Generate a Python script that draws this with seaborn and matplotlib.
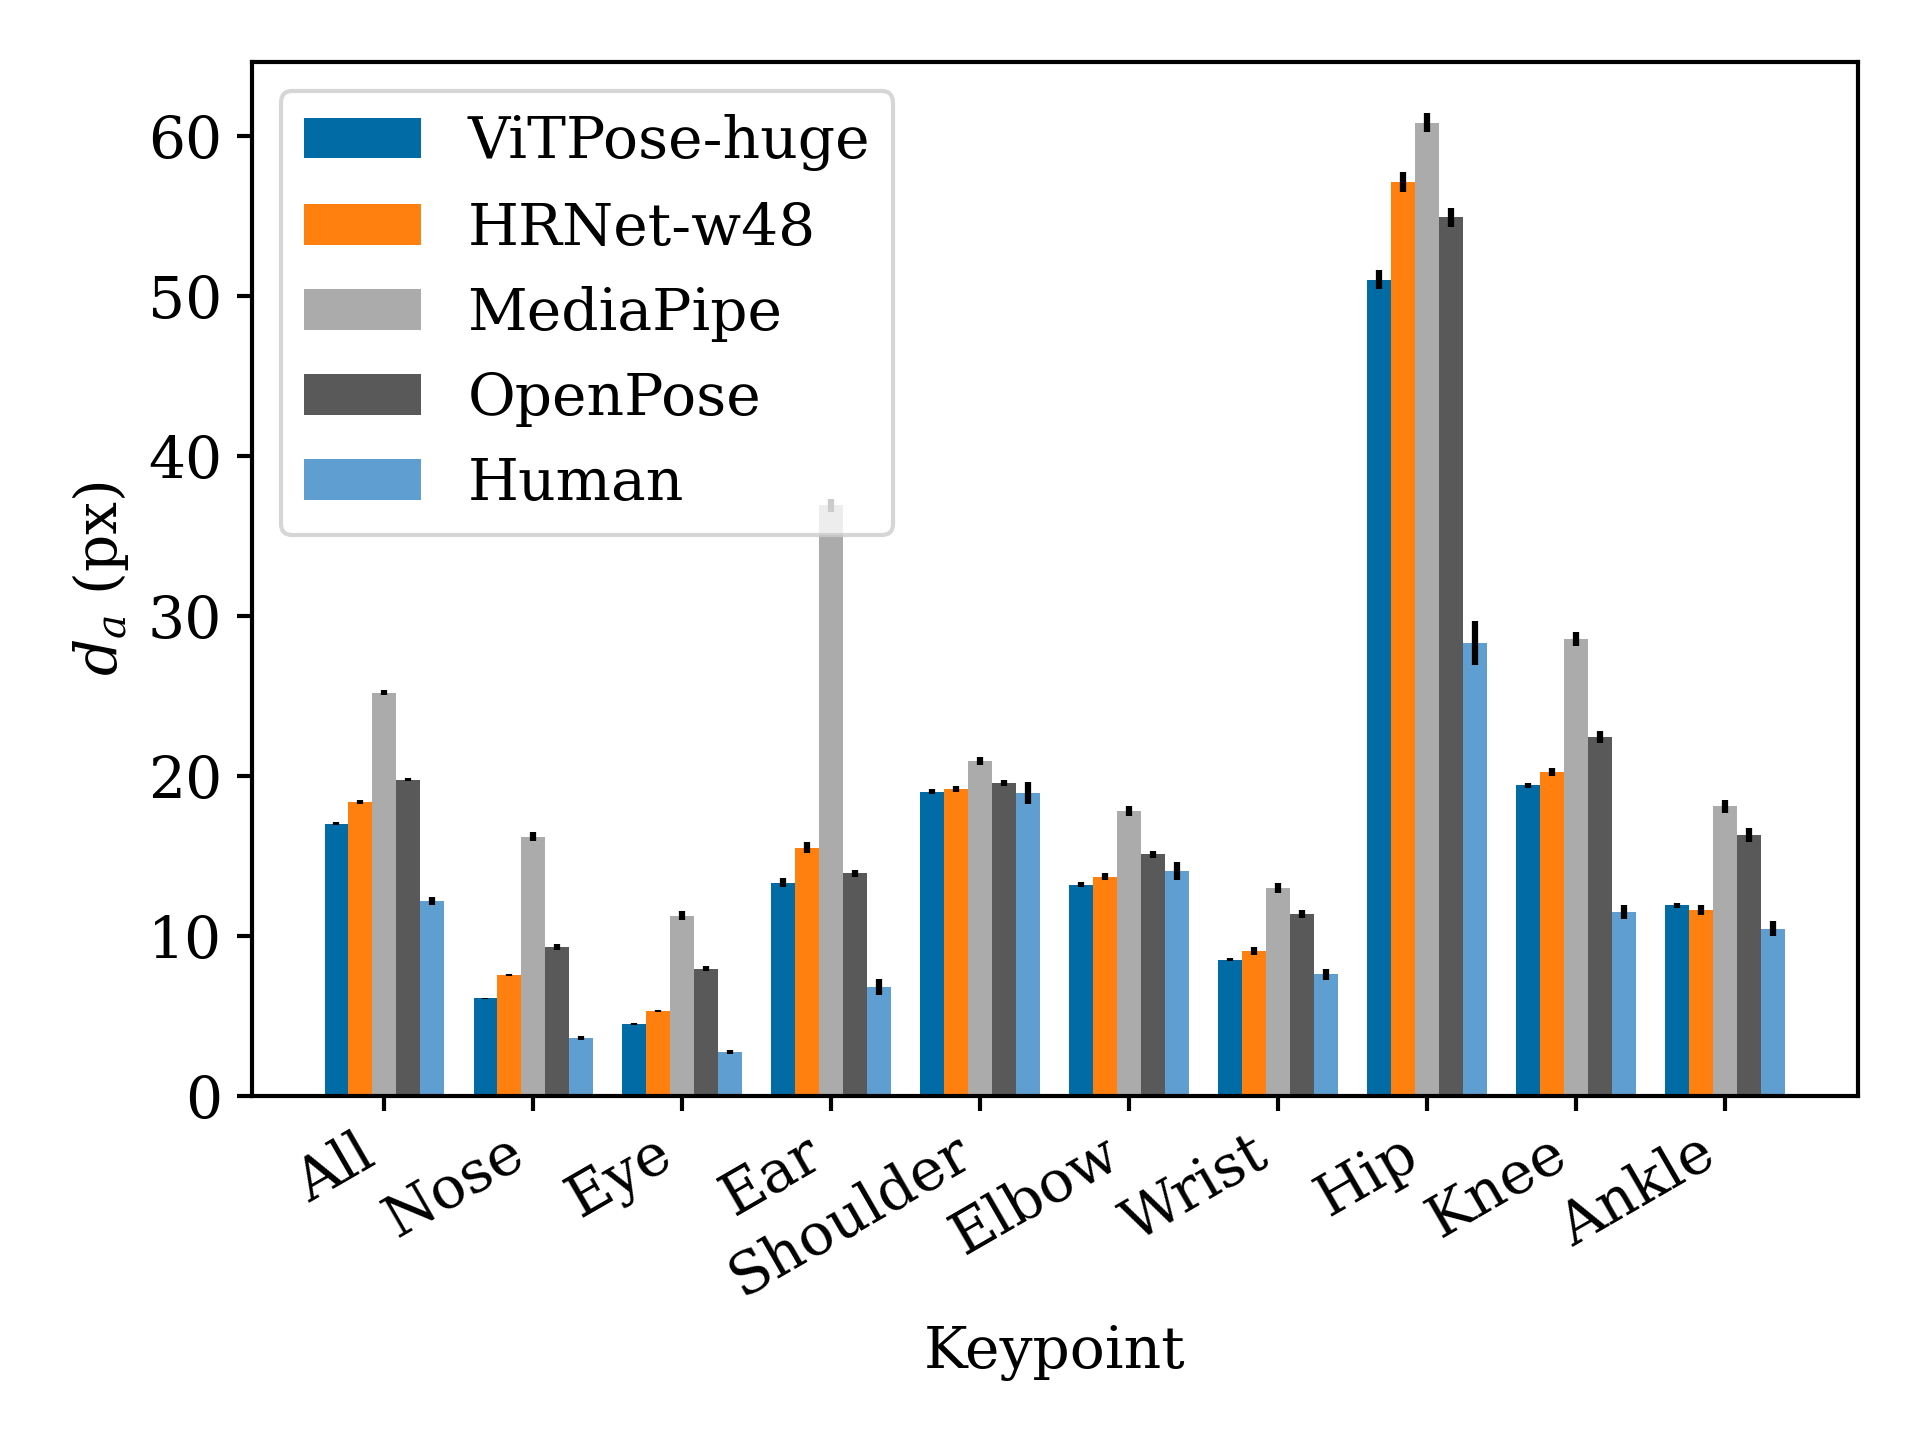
import numpy as np
import pandas as pd
import matplotlib
matplotlib.use('Agg')
import matplotlib.pyplot as plt
import seaborn as sns

# values
keypoints = ['All', 'Nose', 'Eye', 'Ear', 'Shoulder', 'Elbow', 'Wrist', 'Hip', 'Knee', 'Ankle']
models = ['ViTPose-huge', 'HRNet-w48', 'MediaPipe', 'OpenPose', 'Human']

vitpose = [17.0, 6.1, 4.5, 13.3, 19.0, 13.2, 8.5, 51.0, 19.4, 11.9]
hrnet = [18.35, 7.55, 5.3, 15.5, 19.15, 13.7, 9.05, 57.1, 20.25, 11.6]
mediapipe = [25.2, 16.2, 11.25, 36.9, 20.9, 17.8, 13.0, 60.8, 28.55, 18.1]
openpose = [19.75, 9.3, 7.95, 13.9, 19.55, 15.1, 11.35, 54.9, 22.4, 16.3]
human = [12.2, 3.6, 2.75, 6.8, 18.9, 14.05, 7.6, 28.3, 11.5, 10.45]

vitpose_err = [0.08, 0.04, 0.06, 0.28, 0.16, 0.18, 0.1, 0.6, 0.17, 0.15]
hrnet_err = [0.12, 0.08, 0.08, 0.33, 0.18, 0.2, 0.24, 0.64, 0.24, 0.31]
mediapipe_err = [0.15, 0.3, 0.27, 0.4, 0.24, 0.34, 0.31, 0.6, 0.44, 0.41]
openpose_err = [0.1, 0.18, 0.15, 0.24, 0.21, 0.21, 0.24, 0.59, 0.37, 0.44]
human_err = [0.25, 0.12, 0.14, 0.5, 0.68, 0.59, 0.34, 1.35, 0.44, 0.47]

colors = ['#006BA4', '#FF800E', '#ABABAB', '#595959', '#5F9ED1']

values = [vitpose, hrnet, mediapipe, openpose, human]
errors = [vitpose_err, hrnet_err, mediapipe_err, openpose_err, human_err]

rows = []
for m, vals, errs in zip(models, values, errors):
    for k, v, e in zip(keypoints, vals, errs):
        rows.append({'Keypoint': k, 'Model': m, 'da': v, 'err': e})
df = pd.DataFrame(rows)

sns.set_style('ticks')
plt.rcParams['font.family'] = ['DejaVu Serif']
plt.rcParams['mathtext.fontset'] = 'dejavuserif'
plt.rcParams['font.size'] = 14
plt.rcParams['text.color'] = 'black'
plt.rcParams['axes.labelcolor'] = 'black'
plt.rcParams['xtick.color'] = 'black'
plt.rcParams['ytick.color'] = 'black'

fig, ax = plt.subplots(figsize=(6.4, 4.8), dpi=300)
sns.barplot(data=df, x='Keypoint', y='da', hue='Model', order=keypoints,
            hue_order=models, palette=colors, errorbar=None, width=0.8,
            saturation=1, linewidth=0, ax=ax)

# error bars on top of each bar
for cont, m in zip(ax.containers, models):
    sub = df[df.Model == m].set_index('Keypoint').loc[keypoints]
    xs = [b.get_x() + b.get_width() / 2 for b in cont]
    ax.errorbar(xs, sub['da'], yerr=sub['err'], fmt='none', ecolor='black',
                elinewidth=1.5, capsize=0, zorder=3)

ax.set_xlim(-0.89, 9.89)
ax.set_ylim(0, 64.6)
ax.set_xlabel('Keypoint', fontsize=14)
ax.set_ylabel('$d_a$ (px)', fontsize=14)
plt.setp(ax.get_xticklabels(), rotation=30, ha='right')
ax.tick_params(labelsize=14, width=1.0, length=3.5)
for s in ax.spines.values():
    s.set_visible(True)
    s.set_color('black')
    s.set_linewidth(1.0)

leg = ax.legend(loc='upper left', fontsize=14, framealpha=0.8, title=None)
leg.set_zorder(5)

fig.subplots_adjust(left=0.131, right=0.9675, top=0.957, bottom=0.239)
fig.savefig('out.png', dpi=300)
